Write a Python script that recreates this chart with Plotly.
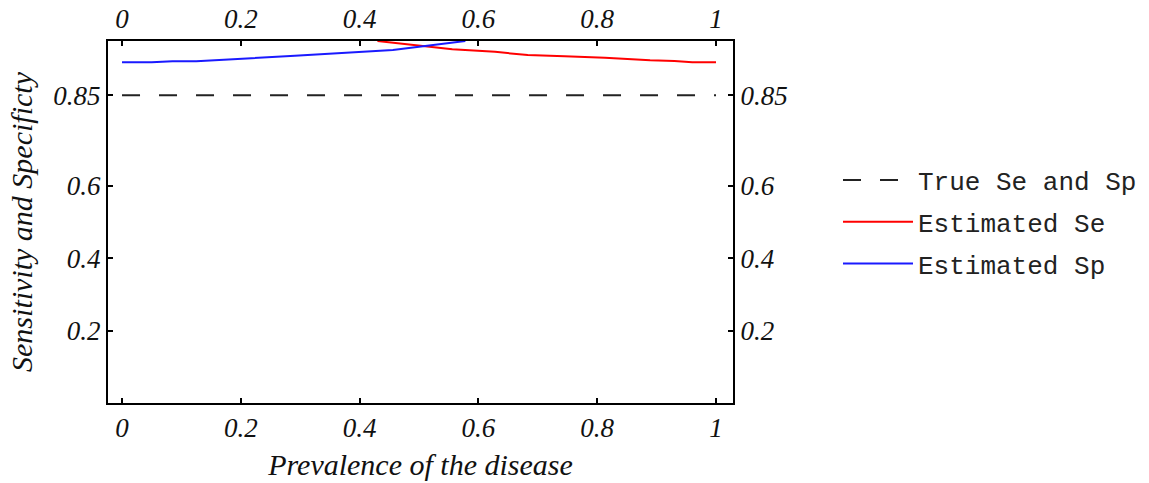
import plotly.graph_objects as go

# Data
prev_se = [0.43, 0.507, 0.556, 0.628, 0.683, 0.745, 0.813, 0.889, 0.93, 0.96, 1.0]
est_se = [1.0, 0.987, 0.977, 0.970, 0.961, 0.958, 0.954, 0.947, 0.945, 0.941, 0.941]

prev_sp = [0.0, 0.05, 0.085, 0.125, 0.291, 0.456, 0.578]
est_sp = [0.941, 0.941, 0.944, 0.944, 0.959, 0.975, 1.0]

true_x = [0.0, 1.0]
true_y = [0.85, 0.85]

x_ticks = [0, 0.2, 0.4, 0.6, 0.8, 1]
x_ticktext = ["0", "0.2", "0.4", "0.6", "0.8", "1"]
y_ticks = [0.2, 0.4, 0.6, 0.85]
y_ticktext = ["0.2", "0.4", "0.6", "0.85"]

serif = "Liberation Serif"
mono = "Liberation Mono"

fig = go.Figure()
fig.add_trace(go.Scatter(x=true_x, y=true_y, mode="lines", name="True Se and Sp",
                         legendgroup="a",
                         line=dict(color="#222222", width=2, dash="18px,19px")))
fig.add_trace(go.Scatter(x=prev_se, y=est_se, mode="lines", name="Estimated Se",
                         legendgroup="b",
                         line=dict(color="#ff0000", width=2)))
fig.add_trace(go.Scatter(x=prev_sp, y=est_sp, mode="lines", name="Estimated Sp",
                         legendgroup="c",
                         line=dict(color="#1a1aff", width=2)))
# invisible trace to activate secondary axes
fig.add_trace(go.Scatter(x=true_x, y=true_y, mode="lines", xaxis="x2", yaxis="y2",
                         line=dict(width=0), showlegend=False, hoverinfo="skip", opacity=0))

xr = [-0.0236, 1.0286]
yr = [0.0, 1.0]
tickfont = dict(family=serif, size=27, color="#111111", style="italic")
common = dict(showgrid=False, zeroline=False, showline=True, linecolor="black", linewidth=2,
              ticks="inside", ticklen=5, tickwidth=1.5, tickcolor="black", tickfont=tickfont,
              automargin=False)

fig.update_layout(
    width=1149, height=483,
    margin=dict(l=108, r=416, t=41, b=80, autoexpand=False),
    paper_bgcolor="white", plot_bgcolor="white",
    xaxis=dict(range=xr, tickvals=x_ticks, ticktext=x_ticktext,
               title=dict(text="Prevalence of the disease",
                          font=dict(family=serif, size=30, color="#111111", style="italic"),
                          standoff=12),
               **common),
    yaxis=dict(range=yr, tickvals=y_ticks, ticktext=y_ticktext,
               title=dict(text="Sensitivity and Specificty",
                          font=dict(family=serif, size=30, color="#111111", style="italic"),
                          standoff=12),
               **common),
    xaxis2=dict(range=xr, tickvals=x_ticks, ticktext=x_ticktext, overlaying="x",
                side="top", anchor="y", **common),
    yaxis2=dict(range=yr, tickvals=y_ticks, ticktext=y_ticktext, overlaying="y",
                side="right", anchor="x", **common),
    legend=dict(x=1.168, y=0.5, xanchor="left", yanchor="middle",
                font=dict(family=mono, size=26, color="#222222"),
                bgcolor="rgba(0,0,0,0)", itemwidth=70, tracegroupgap=5),
    showlegend=True,
)

fig.write_html("out.html", config={"displayModeBar": False},
               post_script="document.body.style.margin='0';document.body.style.overflow='hidden';")
